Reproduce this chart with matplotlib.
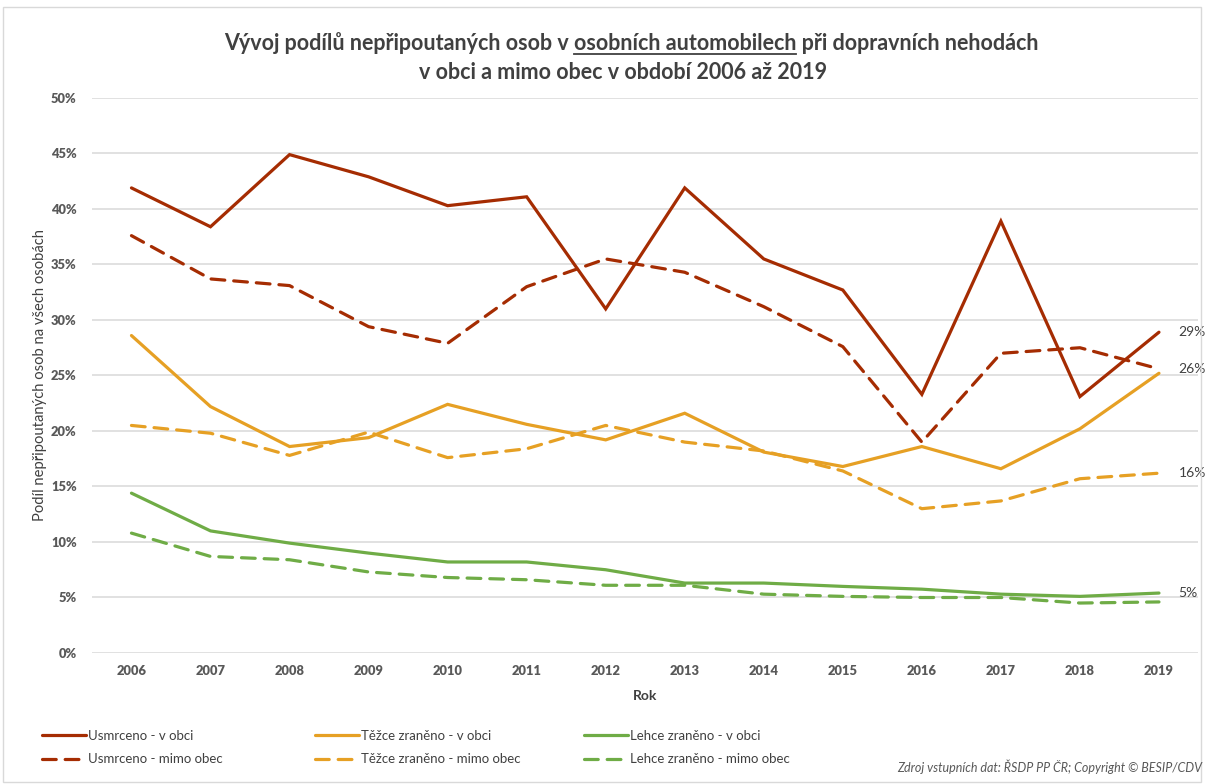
import matplotlib
matplotlib.use("Agg")
import matplotlib.pyplot as plt
from matplotlib.lines import Line2D
from matplotlib.patches import Rectangle

# values (share in %)
years = [2006, 2007, 2008, 2009, 2010, 2011, 2012, 2013, 2014, 2015, 2016, 2017, 2018, 2019]
usmrceno_v_obci = [41.9, 38.4, 44.9, 42.9, 40.3, 41.1, 31.0, 41.9, 35.5, 32.7, 23.3, 38.9, 23.1, 28.9]
usmrceno_mimo = [37.6, 33.7, 33.1, 29.4, 27.9, 33.0, 35.5, 34.3, 31.2, 27.6, 19.0, 27.0, 27.5, 25.6]
tezce_v_obci = [28.6, 22.2, 18.6, 19.4, 22.4, 20.6, 19.2, 21.6, 18.1, 16.8, 18.6, 16.6, 20.2, 25.2]
tezce_mimo = [20.5, 19.8, 17.8, 19.9, 17.6, 18.4, 20.5, 19.0, 18.2, 16.4, 13.0, 13.7, 15.7, 16.2]
lehce_v_obci = [14.4, 11.0, 9.9, 9.0, 8.2, 8.2, 7.5, 6.3, 6.3, 6.0, 5.75, 5.3, 5.1, 5.4]
lehce_mimo = [10.8, 8.7, 8.4, 7.3, 6.8, 6.6, 6.1, 6.1, 5.3, 5.1, 5.0, 5.0, 4.5, 4.6]

labels = ["Usmrceno - v obci", "Těžce zraněno - v obci", "Lehce zraněno - v obci",
          "Usmrceno - mimo obec", "Těžce zraněno - mimo obec", "Lehce zraněno - mimo obec"]

RED = "#A52C02"
ORANGE = "#E6A024"
GREEN = "#6FAC46"
TXT = "#404040"
GRID = "#D9D9D9"

plt.rcParams["font.family"] = ["Lato", "DejaVu Sans"]

fig = plt.figure(figsize=(12.05, 7.84), dpi=100)
ax = fig.add_axes([0.0763, 0.1671, 0.9183, 0.7079])

x = list(range(len(years)))
dash = (4.3, 2.8)
lw = 2.3
series = [
    (usmrceno_v_obci, RED, "-"),
    (tezce_v_obci, ORANGE, "-"),
    (lehce_v_obci, GREEN, "-"),
    (usmrceno_mimo, RED, "--"),
    (tezce_mimo, ORANGE, "--"),
    (lehce_mimo, GREEN, "--"),
]
lines = []
for (vals, col, ls), lab in zip(series, labels):
    if ls == "--":
        ln, = ax.plot(x, vals, color=col, lw=lw, dashes=dash, label=lab,
                      solid_capstyle="round", dash_capstyle="round", zorder=3)
    else:
        ln, = ax.plot(x, vals, color=col, lw=lw, label=lab,
                      solid_capstyle="round", solid_joinstyle="miter", zorder=3)
    lines.append(ln)

ax.set_xlim(-0.5, len(years) - 0.5)
ax.set_ylim(0, 50)
ax.set_yticks(range(0, 51, 5))
ax.set_yticklabels([f"{v}%" for v in range(0, 51, 5)])
ax.set_xticks(x)
ax.set_xticklabels([str(y) for y in years])
ax.grid(axis="y", color=GRID, lw=1.1)
ax.set_axisbelow(True)
for s in ax.spines.values():
    s.set_visible(False)
ax.tick_params(length=0, colors="#595959", labelsize=9.3)
ax.tick_params(axis="y", pad=11)
ax.tick_params(axis="x", pad=9)
for t in ax.get_xticklabels() + ax.get_yticklabels():
    t.set_fontweight("heavy")

ax.set_xlabel("Rok", fontsize=10, fontweight="bold", color=TXT, labelpad=9)
ax.set_ylabel("Podíl nepřipoutaných osob na všech osobách", fontsize=10.6, color=TXT, labelpad=3)

# end labels
for vals in (usmrceno_v_obci, usmrceno_mimo, tezce_mimo, lehce_v_obci):
    ax.annotate(f"{round(vals[-1]):.0f}%", (x[-1], vals[-1]), xytext=(14, 0),
                textcoords="offset points", va="center", ha="left", fontsize=10, color=TXT)

# title with underlined part
fig.canvas.draw()
r = fig.canvas.get_renderer()
p1 = "Vývoj podílů nepřipoutaných osob v "
p2 = "osobních automobilech"
p3 = " při dopravních nehodách"
tkw = dict(fontsize=15.5, fontweight="bold", color=TXT, ha="center", va="baseline")
cx1 = 631
t_full = fig.text(cx1 / 1205, 1 - 50 / 784, p1 + p2 + p3, **tkw)
fig.text(623 / 1205, 1 - 79 / 784, "v obci a mimo obec v období 2006 až 2019", **tkw)
def w(s):
    tt = fig.text(0, 0, s, **tkw)
    ww = tt.get_window_extent(r).width
    tt.remove()
    return ww
W = t_full.get_window_extent(r).width
left = cx1 - W / 2
u1 = left + w(p1 + p2) - w(p2)
u2 = left + w(p1 + p2)
uy = 784 - 53.5
fig.add_artist(Line2D([u1 / 1205, u2 / 1205], [uy / 784, uy / 784], color=TXT, lw=1.3))

# legends
leg_kw = dict(frameon=False, fontsize=9.5, handlelength=3.3, handletextpad=0.15,
              labelspacing=0.85, labelcolor=TXT, borderaxespad=0, borderpad=0)
for i, xs in enumerate([42, 315, 584]):
    fig.legend([lines[i], lines[i + 3]], [labels[i], labels[i + 3]],
               loc="upper left", bbox_to_anchor=(xs / 1205, 1 - 730 / 784), **leg_kw)

fig.text(1202 / 1205, 1 - 767 / 784, "Zdroj vstupních dat: ŘSDP PP ČR; Copyright © BESIP/CDV",
         ha="right", va="center", fontsize=9, style="italic", color="#595959")

fig.add_artist(Rectangle((3 / 1205, 2 / 784), 1198 / 1205, 775 / 784, fill=False,
                         edgecolor="#D9D9D9", lw=1, transform=fig.transFigure))

fig.savefig("out.png", dpi=100)
